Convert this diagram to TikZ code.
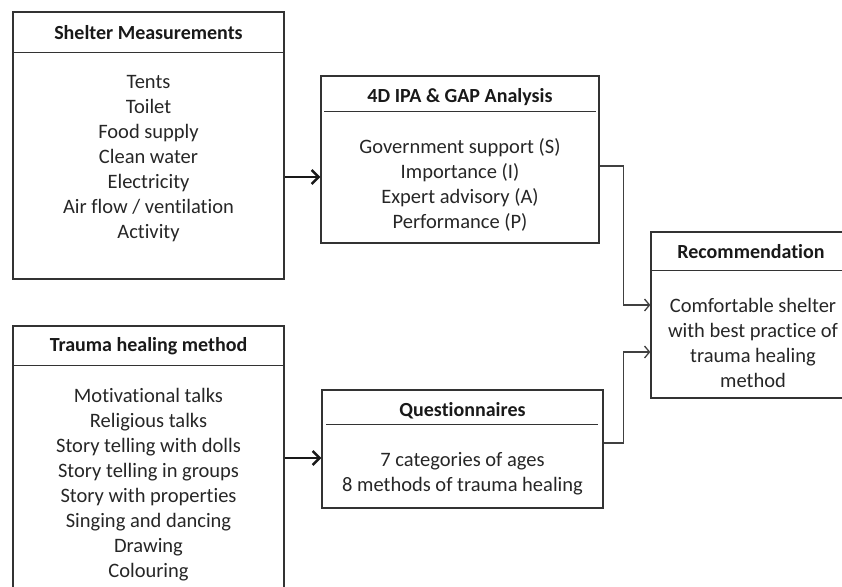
\documentclass[tikz,border=0pt]{standalone}
\usepackage{fontspec}
\setmainfont{Carlito}[Ligatures=NoCommon]
\usetikzlibrary{arrows.meta}
\tikzset{
  blocknode/.style = {align=center, inner sep=0pt, text centered, font=\fontsize{20.5}{25}\selectfont},
  % frame of one block, drawn empty
  blk_F/.style = {rectangle, draw=black!80, line width=1.3pt, inner sep=0pt},
  blk_H/.style = {blocknode, text=black!90, font=\fontsize{20}{25}\selectfont\bfseries},
  blk_T/.style = {blocknode, text=black!85},
  blk_L/.style = {draw=black!80, line width=1.3pt},
  feed_A/.style = {-{Straight Barb[length=7pt,width=14pt]}, line width=2.4pt, black!90},
  link_A/.style = {-{Straight Barb[length=5pt,width=12pt]}, line width=1.3pt, black!75}
}

\begin{document}
\begin{tikzpicture}[x=1pt,y=-1pt]
	\clip (0,0) rectangle (842,586);
	% Shelter block:
	\node [blk_F][minimum width=271pt, minimum height=267pt] (shelter) at (148.5,145.5) {};
	\node [blk_H] (shelter_h) at (148.5,32.5) {Shelter Measurements};
	\draw [blk_L] ([yshift=-41pt]shelter.north west) -- ([yshift=-41pt]shelter.north east);
	\node [blk_T] (shelter_t) at (148.5,159) {Tents\\Toilet\\Food supply\\Clean water\\Electricity\\Air flow / ventilation\\Activity};
	% Trauma block (runs off the bottom):
	\node [blk_F][minimum width=271pt, minimum height=274pt] (trauma) at (148.5,463) {};
	\node [blk_H] (trauma_h) at (148.5,346) {Trauma healing method};
	\draw [blk_L] ([yshift=-40pt]trauma.north west) -- ([yshift=-40pt]trauma.north east);
	\node [blk_T] (trauma_t) at (148.5,484.5) {Motivational talks\\Religious talks\\Story telling with dolls\\Story telling in groups\\Story with properties\\Singing and dancing\\Drawing\\Colouring};
	% 4D IPA block:
	\node [blk_F][minimum width=278pt, minimum height=167pt] (ipa) at (460,159.5) {};
	\node [blk_H] (ipa_h) at (460,97) {4D IPA \& GAP Analysis};
	\draw [blk_L] ([shift={(4pt,-36pt)}]ipa.north west) -- ([shift={(-4pt,-36pt)}]ipa.north east);
	\node [blk_T] (ipa_t) at (460,184.5) {Government support (S)\\Importance (I)\\Expert advisory (A)\\Performance (P)};
	% Questionnaires block:
	\node [blk_F][minimum width=281pt, minimum height=118pt] (quest) at (462.5,449) {};
	\node [blk_H] (quest_h) at (462.5,411) {Questionnaires};
	\draw [blk_L] ([shift={(5pt,-35pt)}]quest.north west) -- ([shift={(-6pt,-35pt)}]quest.north east);
	\node [blk_T] (quest_t) at (462.5,473.5) {7 categories of ages\\8 methods of trauma healing};
	% Recommendation block (runs off the right):
	\node [blk_F][minimum width=204pt, minimum height=166pt] (rec) at (753,315) {};
	\node [blk_H] (rec_h) at (751,252) {Recommendation};
	\draw [blk_L] ([yshift=-39pt]rec.north west) -- ([yshift=-39pt]rec.north east);
	\node [blk_T] (rec_t) at (753,342.5) {Comfortable shelter\\with best practice of\\trauma healing\\method};
	% Connectors:
	\coordinate (shelter_o) at ([yshift=-31.5pt]shelter.east);
	\coordinate (trauma_o) at ([yshift=5pt]trauma.east);
	\draw [feed_A] (shelter_o) -- (shelter_o -| ipa.west);
	\draw [feed_A] (trauma_o) -- (trauma_o -| quest.west);
	\draw [link_A] ([yshift=-6.5pt]ipa.east) -- ++(24,0) |- ([yshift=10pt]rec.west);
	\draw [link_A] ([yshift=6pt]quest.east) -- ++(20,0) |- ([yshift=-37pt]rec.west);
\end{tikzpicture}
\end{document}
